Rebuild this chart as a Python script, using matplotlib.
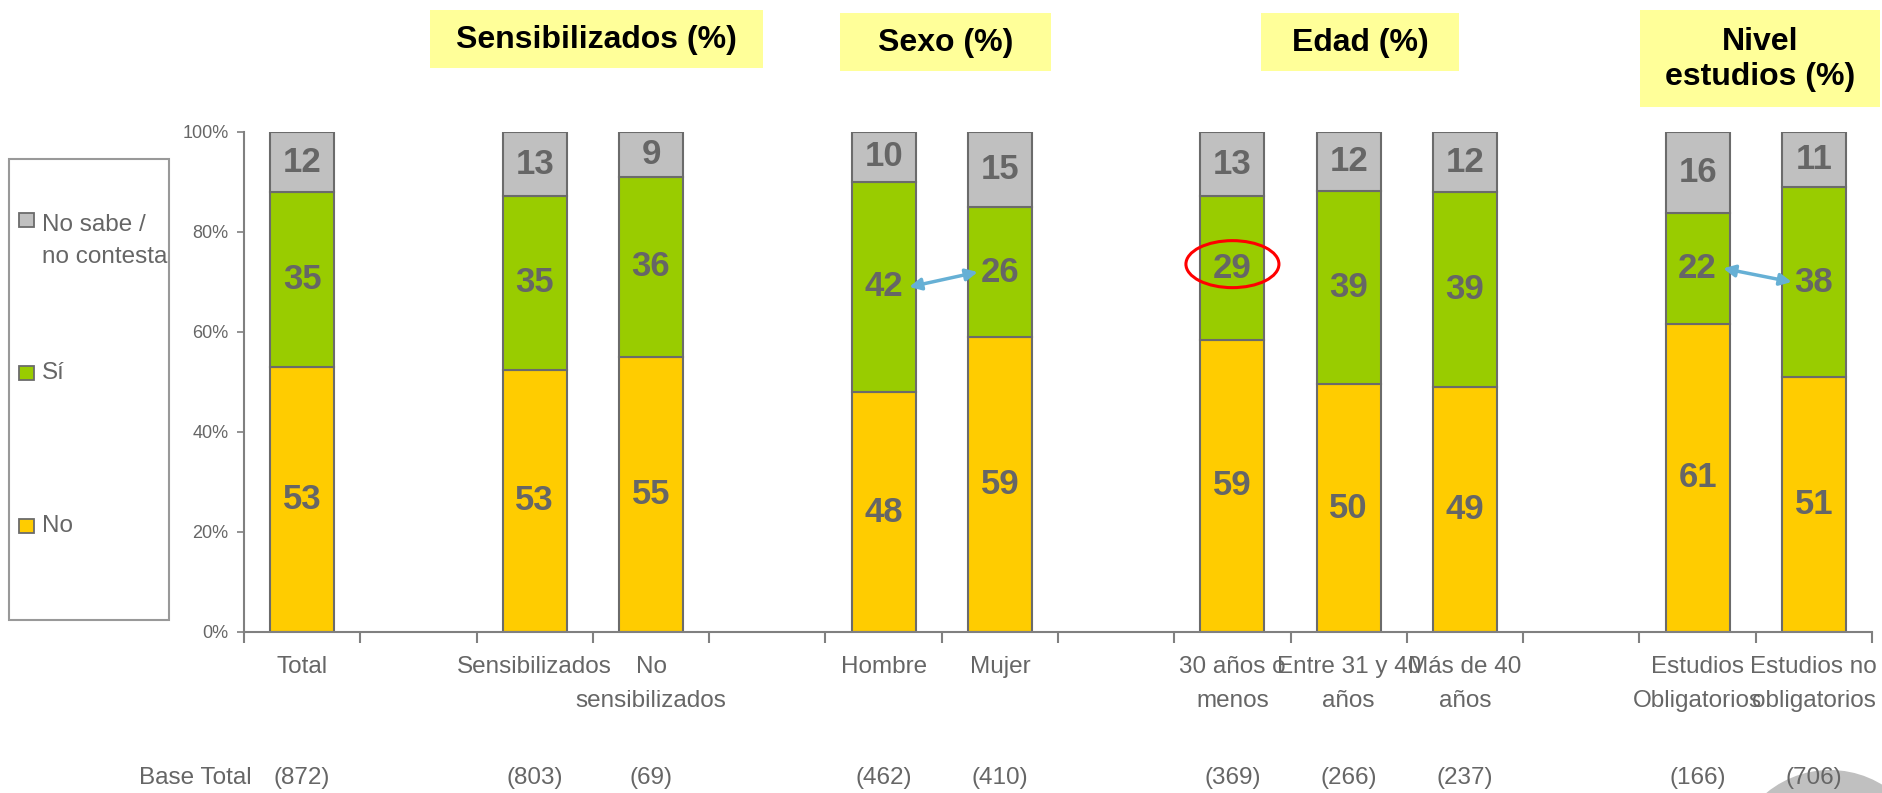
import matplotlib
matplotlib.use("Agg")
import matplotlib.pyplot as plt
import matplotlib.transforms as mtransforms
from matplotlib.patches import Rectangle, Ellipse, Circle

plt.rcParams['font.family'] = ['Liberation Sans', 'DejaVu Sans']

# data
group_titles = [None, 'Sensibilizados (%)', 'Sexo (%)', 'Edad (%)', 'Nivel\nestudios (%)']
group_sizes = [1, 2, 2, 3, 2]
categories = ['Total', 'Sensibilizados', 'No\nsensibilizados', 'Hombre', 'Mujer',
              '30 años o\nmenos', 'Entre 31 y 40\naños', 'Más de 40\naños',
              'Estudios\nObligatorios', 'Estudios no\nobligatorios']
no_vals = [53, 53, 55, 48, 59, 59, 50, 49, 61, 51]
si_vals = [35, 35, 36, 42, 26, 29, 39, 39, 22, 38]
ns_vals = [12, 13, 9, 10, 15, 13, 12, 12, 16, 11]
base_n = [872, 803, 69, 462, 410, 369, 266, 237, 166, 706]
series_names = ['No', 'Sí', 'No sabe /\nno contesta']
series_colors = ['#FFCC00', '#99CC00', '#C0C0C0']
highlight = 5            # 30 años o menos, Sí
arrow_pairs = [(3, 4), (8, 9)]

GRAY = '#666666'
EDGE = '#6b6b6b'
W, H = 1882, 793

# slot positions: one empty slot between groups
positions = []
slot = 0
for g, n in enumerate(group_sizes):
    for k in range(n):
        positions.append(slot)
        slot += 1
    slot += 1
n_slots = slot - 1

fig = plt.figure(figsize=(W / 100, H / 100), dpi=100)
ax = fig.add_axes([244 / W, 1 - 632 / H, (1872 - 244) / W, (632 - 132) / H])
ax.set_facecolor('none')

series = [no_vals, si_vals, ns_vals]
label_pos = {}
for i, x in enumerate(positions):
    total = no_vals[i] + si_vals[i] + ns_vals[i]
    bottom = 0
    for s, vals in enumerate(series):
        h = vals[i] / total * 100
        ax.bar(x, h, bottom=bottom, width=0.55, color=series_colors[s],
               edgecolor=EDGE, linewidth=1.5, zorder=2)
        yc = bottom + h / 2
        label_pos[(i, s)] = (x, yc)
        ax.text(x, yc, str(vals[i]), ha='center', va='center', fontsize=25,
                fontweight='bold', color=GRAY, zorder=4)
        bottom += h

# red ellipse around highlighted value
hx, hy = label_pos[(highlight, 1)]
ax.add_patch(Ellipse((hx, hy + 0.8), 0.8, 9.4, fill=False, edgecolor='#FF0000',
                     linewidth=2.2, zorder=5))

# blue comparison arrows
for a, b in arrow_pairs:
    xa, ya = label_pos[(a, 1)]
    xb, yb = label_pos[(b, 1)]
    ax.annotate('', xy=(xb - 0.19, yb), xytext=(xa + 0.22, ya),
                arrowprops=dict(arrowstyle='<|-|>,head_length=0.7,head_width=0.35',
                                color='#66B0D5', lw=2.5, shrinkA=0, shrinkB=0),
                zorder=5)

ax.set_xlim(-0.5, n_slots - 0.5)
ax.set_ylim(0, 100)
ax.set_yticks(range(0, 101, 20))
ax.set_yticklabels([f'{v}%' for v in range(0, 101, 20)])
ax.set_xticks(positions)
ax.set_xticklabels(categories)
ax.set_xticks([k - 0.5 for k in range(n_slots + 1)], minor=True)
ax.tick_params(axis='x', which='major', length=0, pad=17, labelsize=17.5, labelcolor=GRAY)
ax.tick_params(axis='x', which='minor', length=8, width=1.5, color='#808080')
ax.tick_params(axis='y', length=5, width=1.2, color='#808080', labelsize=13,
               labelcolor=GRAY, pad=6)
for lab in ax.get_xticklabels():
    lab.set_linespacing(1.7)
    lab.set_va('top')
for side in ['top', 'right']:
    ax.spines[side].set_visible(False)
for side in ['left', 'bottom']:
    ax.spines[side].set_color('#808080')
    ax.spines[side].set_linewidth(1.5)

# overlay in pixel coordinates for the decorations around the plot
ov = fig.add_axes([0, 0, 1, 1], zorder=-1)
ov.set_xlim(0, W)
ov.set_ylim(H, 0)
ov.axis('off')

# group title boxes
title_boxes = [None, (430, 10, 333, 58), (840, 13, 211, 58), (1261, 13, 198, 58),
               (1640, 10, 240, 97)]
for title, box in zip(group_titles, title_boxes):
    if title is None:
        continue
    x0, y0, bw, bh = box
    ov.add_patch(Rectangle((x0, y0), bw, bh, facecolor='#FFFF99', edgecolor='none'))
    ov.text(x0 + bw / 2, y0 + bh / 2 + 1, title, ha='center', va='center',
            fontsize=23, fontweight='bold', color='black', linespacing=1.2)

# legend box
ov.add_patch(Rectangle((9, 159), 160, 461, facecolor='white', edgecolor='#999999',
                       linewidth=1.5))
legend_y = [241, 373, 526]
for s in reversed(range(3)):
    y = legend_y[2 - s]
    sq_y = y - 7 if s != 2 else 213
    ov.add_patch(Rectangle((19, sq_y), 15, 14, facecolor=series_colors[s],
                           edgecolor=EDGE, linewidth=1.3))
    ov.text(42, y, series_names[s], ha='left', va='center', fontsize=17.5,
            color=GRAY, linespacing=1.6)

# base row
ov.add_patch(Circle((1830, 870), 100, facecolor='#C0C0C0', edgecolor='none'))
ov.text(252, 778, 'Base Total', ha='right', va='center', fontsize=17.5, color=GRAY)
trans = mtransforms.blended_transform_factory(ax.transData, fig.transFigure)
for x, n in zip(positions, base_n):
    fig.text(x, 1 - 778 / H, f'({n})', transform=trans, ha='center', va='center',
             fontsize=17.5, color=GRAY)

fig.savefig('out.png', dpi=100, facecolor='white')
